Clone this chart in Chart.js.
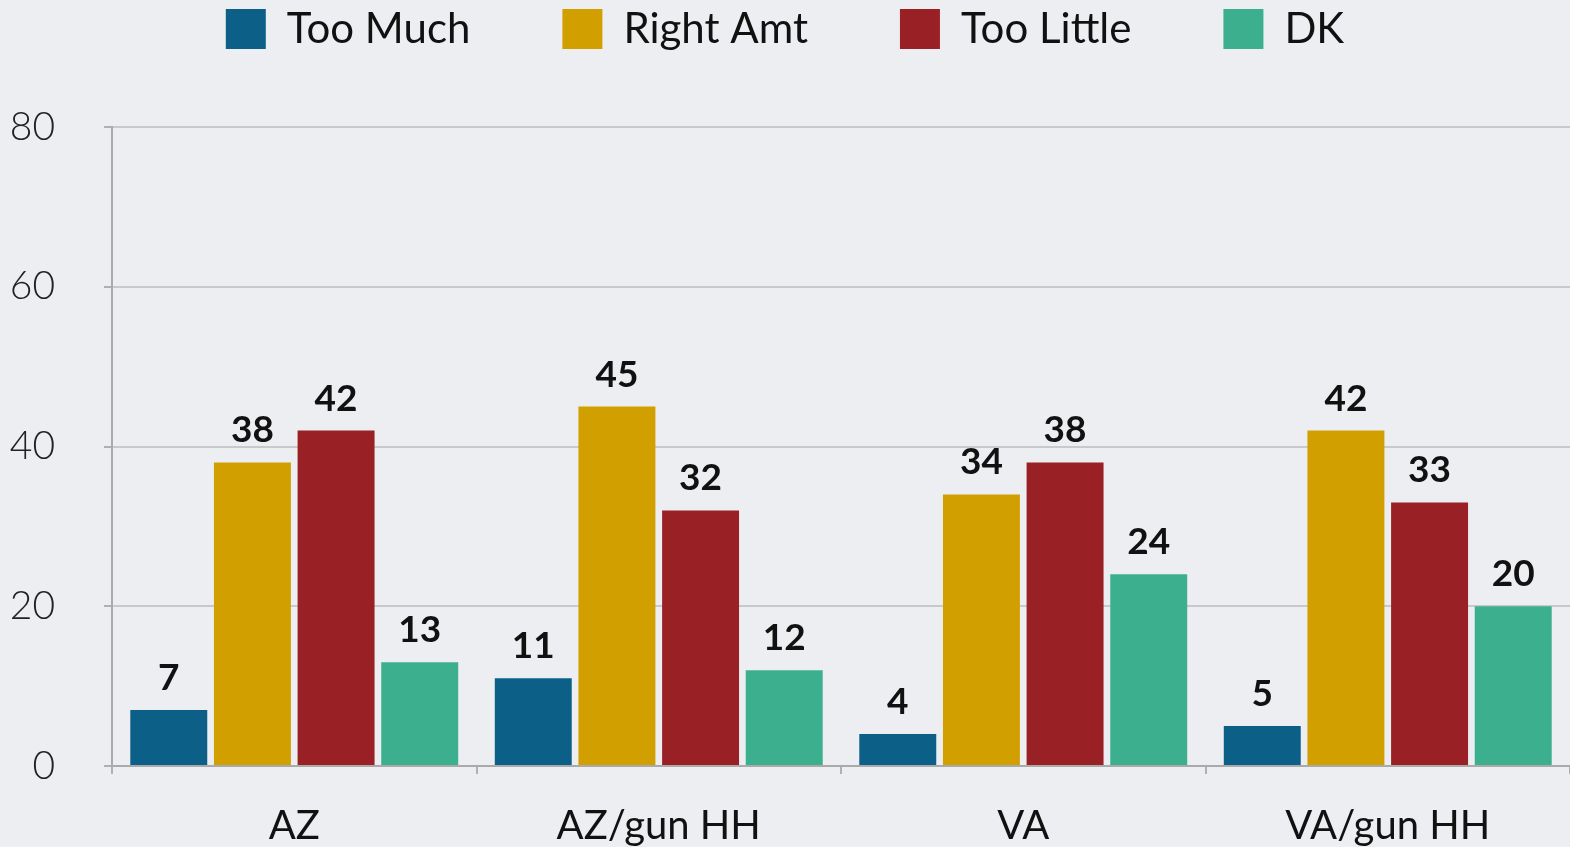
<!DOCTYPE html>
<html lang="en">
<head>
    <meta charset="UTF-8">
    <title>Too Much / Right Amt / Too Little</title>
    <script src="https://cdn.jsdelivr.net/npm/chart.js"></script>
    <style>
        body {
            margin: 0;
            background-color: #edeef1;
            overflow: hidden;
        }
        #wrap {
            width: 1570px;
            height: 847px;
        }
    </style>
</head>
<body>
    <div id="wrap"><canvas id="gunChart"></canvas></div>

    <script>
        // data
        const groups = ['AZ', 'AZ/gun HH', 'VA', 'VA/gun HH'];
        const tooMuch = [7, 11, 4, 5];
        const rightAmt = [38, 45, 34, 42];
        const tooLittle = [42, 32, 38, 33];
        const dontKnow = [13, 12, 24, 20];
        const yTicks = [0, 20, 40, 60, 80];

        const FONT = 'Lato, "Open Sans", sans-serif';

        // draws the number above each bar
        const barValues = {
            id: 'barValues',
            afterDatasetsDraw(chart) {
                const c = chart.ctx;
                c.save();
                c.font = 'bold 37px ' + FONT;
                c.fillStyle = '#111';
                c.textAlign = 'center';
                c.textBaseline = 'alphabetic';
                chart.data.datasets.forEach((ds, i) => {
                    chart.getDatasetMeta(i).data.forEach((bar, j) => {
                        c.fillText(ds.data[j], bar.x, bar.y - 20);
                    });
                });
                c.restore();
            }
        };

        // legend needs wide gaps between items but sits close to the top
        const legendSpot = {
            id: 'legendSpot',
            beforeLayout(chart) {
                const lg = chart.legend;
                if (lg && !lg._fixed) {
                    const fit = lg.fit.bind(lg);
                    lg.fit = function () { fit(); this.height = 127; };
                    lg._fixed = true;
                }
            },
            afterLayout(chart) {
                chart.legend.top = -84;
            }
        };

        const ctx = document.getElementById('gunChart').getContext('2d');
        new Chart(ctx, {
            type: 'bar',
            data: {
                labels: groups,
                datasets: [
                    { label: 'Too Much', data: tooMuch, backgroundColor: '#0c6088' },
                    { label: 'Right Amt', data: rightAmt, backgroundColor: '#d29f00' },
                    { label: 'Too Little', data: tooLittle, backgroundColor: '#992025' },
                    { label: 'DK', data: dontKnow, backgroundColor: '#3caf8e' }
                ]
            },
            options: {
                responsive: true,
                maintainAspectRatio: false,
                animation: false,
                layout: { padding: 0 },
                datasets: {
                    bar: { categoryPercentage: 0.918, barPercentage: 0.92 }
                },
                plugins: {
                    tooltip: { enabled: false },
                    legend: {
                        position: 'top',
                        labels: {
                            boxWidth: 40,
                            boxHeight: 40,
                            padding: 92,
                            color: '#111',
                            font: { family: FONT, size: 42 }
                        }
                    }
                },
                scales: {
                    x: {
                        afterFit: s => { s.height = 81; },
                        grid: {
                            display: true,
                            drawOnChartArea: false,
                            drawTicks: true,
                            tickLength: 8,
                            color: '#b0b0b0',
                            lineWidth: 2
                        },
                        border: { color: '#aaaaaa', width: 2 },
                        ticks: {
                            color: '#111',
                            padding: 28,
                            font: { family: FONT, size: 40 }
                        }
                    },
                    y: {
                        min: 0,
                        max: 80,
                        afterFit: s => { s.width = 112; },
                        afterBuildTicks: s => { s.ticks = yTicks.map(v => ({ value: v })); },
                        grid: {
                            color: '#c9c9cd',
                            lineWidth: 2,
                            tickLength: 8,
                            tickColor: '#b0b0b0'
                        },
                        border: { color: '#aaaaaa', width: 2 },
                        ticks: {
                            color: '#222',
                            padding: 49,
                            font: { family: FONT, size: 39, weight: '300' }
                        }
                    }
                }
            },
            plugins: [barValues, legendSpot]
        });
    </script>
</body>
</html>
